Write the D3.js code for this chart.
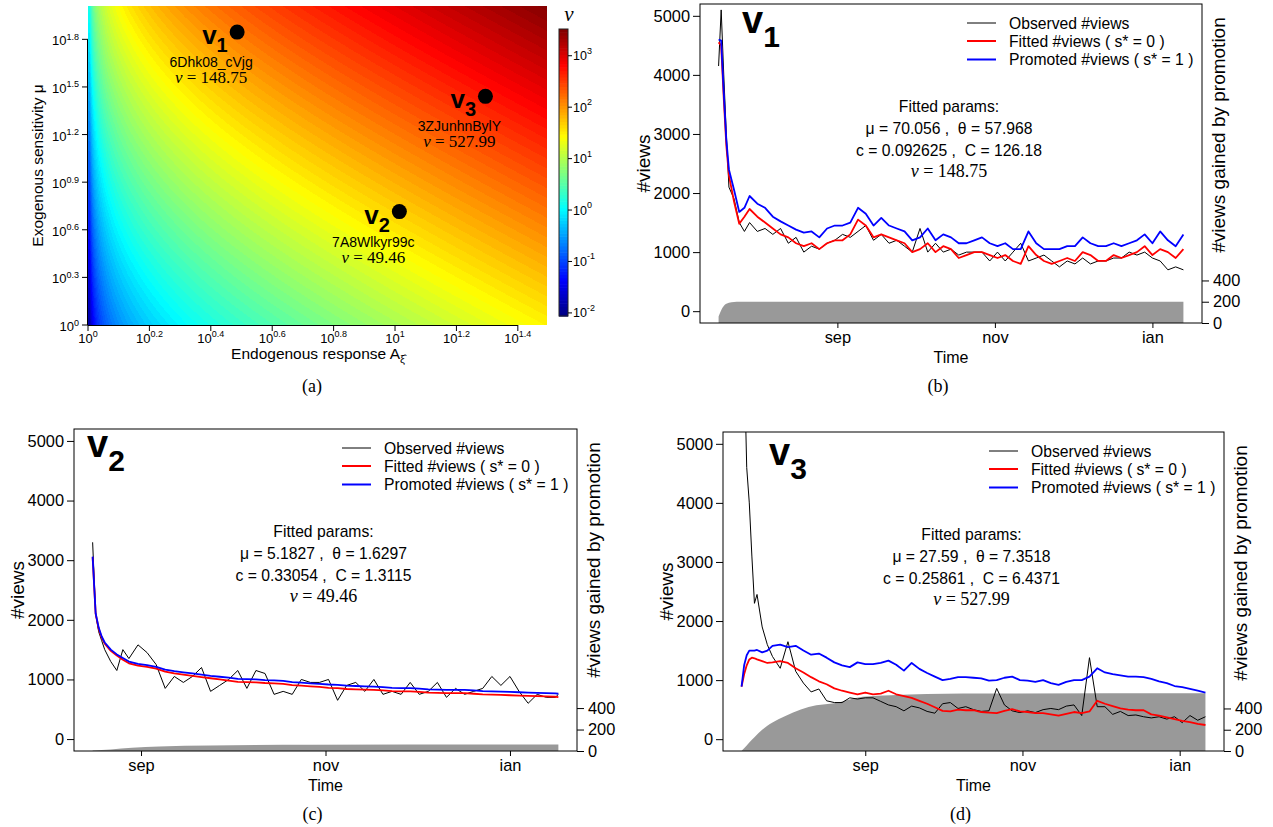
<!DOCTYPE html>
<html>
<head>
<meta charset="utf-8">
<script src="https://cdn.jsdelivr.net/npm/d3@7"></script>
<style>
  body { margin: 0; background: #fff; }
  svg text { font-family: "Liberation Sans", Arial, Helvetica, sans-serif; fill: #000; }
  .serif { font-family: "Liberation Serif", "DejaVu Serif", serif; }
</style>
</head>
<body>
<script>
// ---------- panel (a): the three videos on the (A, mu) plane ----------
const videoIds = ["6Dhk08_cVjg", "7A8Wlkyr99c", "3ZJunhnBylY"];
const videoMu = [70.056, 5.1827, 27.59];
const videoA = [3.06, 10.33, 19.7];
const videoNu = [148.75, 49.46, 527.99];
const videoTheta = [57.968, 1.6297, 7.3518];
const videoc = [0.092625, 0.33054, 0.25861];
const videoC = [126.18, 1.3115, 6.4371];

const heatXTicks = [0, 0.2, 0.4, 0.6, 0.8, 1, 1.2, 1.4];
const heatYTicks = [0, 0.3, 0.6, 0.9, 1.2, 1.5, 1.8];
const nuTicks = [-2, -1, 0, 1, 2, 3];

// ---------- panels (b)(c)(d): daily views ----------
const legendLabels = ["Observed #views", "Fitted #views ( s* = 0 )", "Promoted #views ( s* = 1 )"];
const monthTicks = [Date.UTC(2014, 8, 1), Date.UTC(2014, 10, 1), Date.UTC(2015, 0, 1)];
const monthNames = ["sep", "nov", "ian"];

// v1
const daysB = [0,1,2,3,4,6,8,10,12,15,18,21,24,27,30,33,36,39,42,45,48,51,54,57,60,63,66,69,72,75,78,81,84,87,90,93,96,99,102,105,108,111,114,117,120,123,126,129,132,135,138,141,144,147,150,153,156,159,162,165,168,171,174,177,180];
const obsB = [4150,5100,4000,3000,2100,1900,1500,1350,1500,
  1350,1400,1300,1400,1150,1250,1000,1100,1050,1150,
  1200,1300,1250,1350,1450,1200,1300,1150,1200,1100,
  1000,1400,1000,1150,1000,1050,950,1000,1000,1000,
  850,1000,850,1000,1150,850,900,950,850,750,
  850,800,900,800,850,850,900,900,1000,950,
  1000,900,850,700,750,700];
const fitB = [4550,4500,3600,2800,2300,1850,1480,1600,1730,
  1600,1500,1400,1300,1250,1150,1100,1150,1050,1150,
  1200,1200,1300,1550,1450,1250,1300,1250,1200,1150,
  1000,1050,1150,1000,1100,1050,900,950,1000,1000,
  950,900,950,850,800,1100,950,850,800,850,
  900,850,1000,950,850,850,950,900,950,1000,
  1100,950,1050,1000,900,1050];
const promoB = [4600,4580,3700,2900,2400,2050,1680,1750,1950,
  1820,1750,1600,1520,1450,1380,1330,1350,1250,1400,
  1450,1450,1500,1750,1650,1450,1580,1450,1400,1350,
  1200,1250,1400,1200,1300,1250,1150,1150,1200,1250,
  1150,1100,1150,1050,1050,1350,1150,1050,1050,1050,
  1100,1100,1250,1150,1100,1100,1150,1100,1150,1200,
  1300,1150,1350,1200,1100,1300];
const gainDaysB = [0, 1, 2, 3, 4, 6, 8, 180];
const gainB = [60, 120, 160, 180, 190, 197, 200, 200];

// v2
const daysC = [0,1,2,3,4,6,8,10,12,15,18,21,24,27,30,33,36,39,42,45,48,51,54,57,60,63,66,69,72,75,78,81,84,87,90,93,96,99,102,105,108,111,114,117,120,123,126,129,132,135,138,141,144,147,150,153,154];
const obsC = [3300,2100,1800,1650,1500,1300,1150,1500,1350,
  1580,1450,1250,850,1050,950,1050,1200,800,900,
  1000,1150,850,1150,1100,750,800,750,1000,950,
  950,1000,650,900,950,800,1000,750,800,750,
  950,750,800,950,700,850,750,800,850,1050,
  900,1050,800,600,750,700,700,750];
const fitC = [3050,2100,1850,1700,1600,1480,1400,1330,1270,
  1230,1210,1180,1130,1100,1080,1060,1040,1020,1000,
  980,960,955,950,940,935,925,905,895,885,
  875,860,855,840,835,830,825,815,805,800,
  800,790,780,775,770,770,770,760,750,745,
  740,735,730,725,720,715,710,705];
const promoC = [3060,2110,1870,1720,1620,1500,1420,1360,1300,
  1260,1240,1210,1165,1140,1120,1100,1080,1060,1045,
  1030,1010,1005,1000,990,985,975,955,945,935,
  925,915,910,895,890,885,880,870,860,855,
  855,845,835,830,825,825,825,815,805,800,
  795,790,785,780,775,770,765,760];
const gainDaysC = [0, 6, 13, 22, 39, 72, 154];
const gainC = [5, 15, 30, 43, 52, 58, 60];

// v3
const daysD = [0,1,2,3,4,5,6,8,10,12,15,18,21,24,27,30,33,36,39,42,45,48,51,54,57,60,63,66,69,72,75,78,81,84,87,90,93,96,99,102,105,108,111,114,117,120,123,126,129,132,135,138,141,144,147,150,153,156,159,162,165,168,171,174,177,180];
const obsD = [9000,6500,4600,4000,3100,2300,2450,1900,1600,1400,
  1200,1650,1150,950,800,850,650,620,620,700,
  680,700,700,640,580,550,480,560,530,470,
  440,600,620,520,550,500,470,480,860,580,
  480,450,480,450,500,520,500,560,580,400,
  1380,550,550,420,470,400,410,380,360,380,
  340,380,280,400,320,380];
const fitD = [890,1100,1250,1350,1380,1370,1350,1320,1290,1300,
  1320,1290,1200,1130,1050,980,930,860,820,790,
  760,790,760,770,820,760,730,700,650,600,
  540,480,470,500,490,490,460,450,440,480,
  510,470,460,440,440,420,400,430,460,440,
  470,650,600,560,520,500,490,490,420,400,
  370,340,310,290,260,240];
const promoD = [890,1250,1420,1500,1500,1500,1510,1470,1500,1580,
  1600,1560,1580,1500,1430,1450,1380,1300,1250,1220,
  1300,1270,1270,1290,1330,1260,1160,1290,1190,1120,
  1060,1000,1020,1050,1050,1040,1030,990,1000,1040,
  1060,1000,990,970,1000,950,920,970,1000,1000,
  1060,1200,1130,1100,1080,1060,1060,1050,1020,980,
  950,900,880,850,820,790];
const gainDaysD = [0, 1, 3, 5, 8, 12, 17, 23, 29, 36, 47, 58, 86, 180];
const gainD = [0, 25, 80, 130, 200, 268, 330, 390, 430, 450, 510, 525, 540, 543];

const NB = "\u00a0";

const svg = d3.select("body").append("svg")
    .attr("width", 1273)
    .attr("height", 827)
    .style("display", "block");

// ================= (a) heat map =================
const heat = {left: 88, right: 547, top: 6, bottom: 325};
const hx = d3.scaleLinear().domain([0, 1.495]).range([heat.left, heat.right]);
const hy = d3.scaleLinear().domain([0, 2.01]).range([heat.bottom, heat.top]);
const logNuRange = [-2.06, 3.52];
const nLevels = 90;
const jet = d3.scaleLinear()
    .domain([0, 0.125, 0.375, 0.625, 0.875, 1])
    .range(["#00007f", "#0000ff", "#00ffff", "#ffff00", "#ff0000", "#7f0000"]);
const levelColors = d3.range(nLevels).map(k => d3.rgb(jet((k + 0.5) / nLevels)));
function levelOf(lognu) {
    const t = (lognu - logNuRange[0]) / (logNuRange[1] - logNuRange[0]);
    return Math.max(0, Math.min(nLevels - 1, Math.floor(t * nLevels)));
}

// surface nu = mu * (A - 1), filled on a fine grid
const cw = heat.right - heat.left, ch = heat.bottom - heat.top;
const canvas = document.createElement("canvas");
canvas.width = cw; canvas.height = ch;
const ctx = canvas.getContext("2d");
const img = ctx.createImageData(cw, ch);
for (let j = 0; j < ch; j++) {
    const lmu = hy.invert(heat.top + j + 0.5);
    for (let i = 0; i < cw; i++) {
        const la = Math.max(hx.invert(heat.left + i + 0.5), 0.006);
        const c = levelColors[levelOf(lmu + Math.log10(Math.pow(10, la) - 1))];
        const o = 4 * (j * cw + i);
        img.data[o] = c.r; img.data[o + 1] = c.g; img.data[o + 2] = c.b; img.data[o + 3] = 255;
    }
}
ctx.putImageData(img, 0, 0);
svg.append("image")
    .attr("x", heat.left).attr("y", heat.top)
    .attr("width", cw).attr("height", ch)
    .attr("preserveAspectRatio", "none")
    .attr("href", canvas.toDataURL());

function powLabel(t, exp, supSize, shift) {
    t.append("tspan").text("10");
    t.append("tspan").attr("dy", -shift).style("font-size", supSize + "px").text(exp);
}

// axes of (a)
const ax = svg.append("g");
ax.append("line").attr("x1", hx(0)).attr("x2", hx(1.4)).attr("y1", heat.bottom + 0.5).attr("y2", heat.bottom + 0.5).attr("stroke", "#000");
ax.append("line").attr("x1", heat.left - 0.5).attr("x2", heat.left - 0.5).attr("y1", hy(0)).attr("y2", hy(1.8)).attr("stroke", "#000");
heatXTicks.forEach(v => {
    ax.append("line").attr("x1", hx(v)).attr("x2", hx(v)).attr("y1", heat.bottom).attr("y2", heat.bottom + 6).attr("stroke", "#000");
    const t = ax.append("text").attr("x", hx(v)).attr("y", 342.5).attr("text-anchor", "middle").style("font-size", "13px");
    powLabel(t, String(v), 9, 6);
});
heatYTicks.forEach(v => {
    ax.append("line").attr("x1", heat.left - 6).attr("x2", heat.left).attr("y1", hy(v)).attr("y2", hy(v)).attr("stroke", "#000");
    const t = ax.append("text").attr("x", 79).attr("y", hy(v) + 6).attr("text-anchor", "end").style("font-size", "13px");
    powLabel(t, String(v), 9, 5.5);
});
ax.append("text")
    .attr("transform", "translate(38," + ((heat.top + heat.bottom) / 2) + ") rotate(-90)")
    .attr("dy", "0.35em")
    .attr("text-anchor", "middle")
    .style("font-size", "15.5px")
    .text("Exogenous sensitivity μ");
const xl = ax.append("text").attr("x", 318).attr("y", 359).attr("text-anchor", "middle").style("font-size", "15.5px");
xl.append("tspan").text("Endogenous response A");
xl.append("tspan").attr("dy", 4).style("font-size", "11px").text("ξ\u0302");
svg.append("text").attr("class", "serif").attr("x", 312).attr("y", 392)
    .attr("text-anchor", "middle").style("font-size", "18px").text("(a)");

// colour bar
const cb = {left: 559, right: 568, top: 29, bottom: 316};
const cy = d3.scaleLinear().domain(logNuRange).range([cb.bottom, cb.top]);
const step = (logNuRange[1] - logNuRange[0]) / nLevels;
svg.append("g").selectAll("rect")
    .data(levelColors)
    .enter().append("rect")
    .attr("x", cb.left)
    .attr("width", cb.right - cb.left)
    .attr("y", (d, k) => cy(logNuRange[0] + (k + 1) * step))
    .attr("height", cy(0) - cy(step) + 0.6)
    .attr("fill", d => d);
svg.append("rect").attr("x", cb.left).attr("y", cb.top)
    .attr("width", cb.right - cb.left).attr("height", cb.bottom - cb.top)
    .attr("fill", "none").attr("stroke", "#222");
nuTicks.forEach(v => {
    svg.append("line").attr("x1", cb.right).attr("x2", cb.right + 4).attr("y1", cy(v)).attr("y2", cy(v)).attr("stroke", "#000");
    const t = svg.append("text").attr("x", cb.right + 5).attr("y", cy(v) + 4.5).style("font-size", "12.5px");
    powLabel(t, String(v), 9, 6.5);
});
svg.append("text").attr("class", "serif").attr("x", 569).attr("y", 21)
    .attr("text-anchor", "middle").style("font-size", "21px").style("font-style", "italic").text("ν");

// videos on the map
videoIds.forEach((id, k) => {
    const px = hx(Math.log10(videoA[k])), py = hy(Math.log10(videoMu[k]));
    svg.append("circle").attr("cx", px).attr("cy", py).attr("r", 7.5).attr("fill", "#000");
    const tag = svg.append("text").attr("x", px - 35).attr("y", py + 12)
        .style("font-size", "26px").style("font-weight", "bold");
    tag.append("tspan").text("v");
    tag.append("tspan").attr("dy", 8).style("font-size", "20px").text(String(k + 1));
    svg.append("text").attr("x", px - 26).attr("y", py + 35).attr("text-anchor", "middle")
        .style("font-size", "14px").text(id);
    svg.append("text").attr("class", "serif").attr("x", px - 26).attr("y", py + 51)
        .attr("text-anchor", "middle").style("font-size", "17px")
        .html("<tspan font-style='italic'>ν</tspan> = " + videoNu[k]);
});

// ================= (b)(c)(d) time series =================
const DAY = 864e5;
const panels = [
    {left: 700, right: 1202, top: 4, bottom: 323, start: Date.UTC(2014, 6, 17),
     days: daysB, obs: obsB, fit: fitB, promo: promoB, gainDays: gainDaysB, gain: gainB,
     video: 0, tag: [742, 33], label: "(b)"},
    {left: 74, right: 577, top: 429, bottom: 751, start: Date.UTC(2014, 7, 16),
     days: daysC, obs: obsC, fit: fitC, promo: promoC, gainDays: gainDaysC, gain: gainC,
     video: 1, tag: [87, 457], label: "(c)"},
    {left: 723, right: 1224, top: 432, bottom: 751, start: Date.UTC(2014, 6, 15),
     days: daysD, obs: obsD, fit: fitD, promo: promoD, gainDays: gainDaysD, gain: gainD,
     video: 2, tag: [769, 465], label: "(d)"}
];

function drawPanel(p, idx) {
    const g = svg.append("g");
    const toDate = d => new Date(p.start + d * DAY);
    const span = d3.max(p.days);
    const x = d3.scaleUtc()
        .domain([toDate(-0.04 * span), toDate(span * 1.04)])
        .range([p.left, p.right]);
    const y = d3.scaleLinear().domain([-200, 5200]).range([p.bottom, p.top]);
    const y2 = d3.scaleLinear().domain([0, 3000]).range([p.bottom, p.top]);

    const clipId = "clip" + idx;
    svg.append("clipPath").attr("id", clipId).append("rect")
        .attr("x", p.left).attr("y", p.top)
        .attr("width", p.right - p.left).attr("height", p.bottom - p.top);
    const plot = g.append("g").attr("clip-path", "url(#" + clipId + ")");

    const area = d3.area()
        .x((d, i) => x(toDate(p.gainDays[i])))
        .y0(y2(0))
        .y1(d => y2(d))
        .curve(d3.curveMonotoneX);
    plot.append("path").datum(p.gain).attr("d", area).attr("fill", "#999999");

    const line = d3.line()
        .x((d, i) => x(toDate(p.days[i])))
        .y(d => y(d));
    plot.append("path").datum(p.obs).attr("d", line)
        .attr("fill", "none").attr("stroke", "#000").attr("stroke-width", 1).attr("stroke-linejoin", "round");
    plot.append("path").datum(p.fit).attr("d", line)
        .attr("fill", "none").attr("stroke", "#ff0000").attr("stroke-width", 1.8).attr("stroke-linejoin", "round");
    plot.append("path").datum(p.promo).attr("d", line)
        .attr("fill", "none").attr("stroke", "#0000ff").attr("stroke-width", 1.8).attr("stroke-linejoin", "round");

    // axes
    const yAxis = d3.axisLeft(y).tickValues(d3.range(0, 5001, 1000)).tickSize(7).tickPadding(3).tickFormat(d3.format("d"));
    const y2Axis = d3.axisRight(y2).tickValues([0, 200, 400]).tickSize(7).tickPadding(4);
    const xAxis = d3.axisBottom(x).tickValues(monthTicks.map(t => new Date(t))).tickSize(5).tickPadding(3.5)
        .tickFormat((d, i) => monthNames[i]);
    [[yAxis, "translate(" + p.left + ",0)"],
     [y2Axis, "translate(" + p.right + ",0)"],
     [xAxis, "translate(0," + p.bottom + ")"]].forEach(([a, tr]) => {
        const s = g.append("g").attr("transform", tr).call(a);
        s.select(".domain").remove();
        s.attr("font-family", null).attr("font-size", null);
        s.selectAll("text").style("font-size", "16.4px");
        s.selectAll("line").attr("stroke", "#000");
    });

    g.append("rect").attr("x", p.left).attr("y", p.top)
        .attr("width", p.right - p.left).attr("height", p.bottom - p.top)
        .attr("fill", "none").attr("stroke", "#000").attr("stroke-width", 1);

    const cx = (p.left + p.right) / 2, cyy = (p.top + p.bottom) / 2;
    g.append("text").attr("x", cx).attr("y", p.bottom + 40).attr("text-anchor", "middle")
        .style("font-size", "16px").text("Time");
    g.append("text").attr("transform", "translate(" + (p.left - 57) + "," + cyy + ") rotate(-90)")
        .attr("dy", "0.35em").attr("text-anchor", "middle").style("font-size", "19px").text("#views");
    g.append("text").attr("transform", "translate(" + (p.right + 16) + "," + (p.top + 131) + ") rotate(-90)")
        .attr("dy", "0.35em").attr("text-anchor", "middle").style("font-size", "19px").text("#views gained by promotion");
    g.append("text").attr("class", "serif").attr("x", cx - 13).attr("y", p.bottom + 68.5)
        .attr("text-anchor", "middle").style("font-size", "18px").text(p.label);

    // tag
    const tag = g.append("text").attr("x", p.tag[0]).attr("y", p.tag[1])
        .style("font-size", "38px").style("font-weight", "bold");
    tag.append("tspan").text("v");
    tag.append("tspan").attr("dy", 14).style("font-size", "30px").text(String(p.video + 1));

    // legend
    const colors = ["#000", "#ff0000", "#0000ff"], widths = [1, 2, 2], rows = [19, 37, 55.5];
    legendLabels.forEach((lab, i) => {
        const ly = p.top + rows[i];
        g.append("line").attr("x1", p.right - 235).attr("x2", p.right - 206)
            .attr("y1", ly).attr("y2", ly).attr("stroke", colors[i]).attr("stroke-width", widths[i]);
        g.append("text").attr("x", p.right - 193).attr("y", ly + 5.6).style("font-size", "15.7px").text(lab);
    });

    // fitted parameters
    const k = p.video, pc = cx - 2;
    const lines = ["Fitted params:",
        "μ = " + videoMu[k] + " ," + NB + NB + "θ = " + videoTheta[k],
        "c = " + videoc[k] + " ," + NB + NB + "C = " + videoC[k]];
    [108, 130, 152].forEach((dy, i) => {
        g.append("text").attr("x", pc).attr("y", p.top + dy).attr("text-anchor", "middle")
            .style("font-size", "15.7px").text(lines[i]);
    });
    g.append("text").attr("class", "serif").attr("x", pc).attr("y", p.top + 172.5)
        .attr("text-anchor", "middle").style("font-size", "18px")
        .html("<tspan font-style='italic'>ν</tspan> = " + videoNu[k]);
}

panels.forEach(drawPanel);
</script>
</body>
</html>
